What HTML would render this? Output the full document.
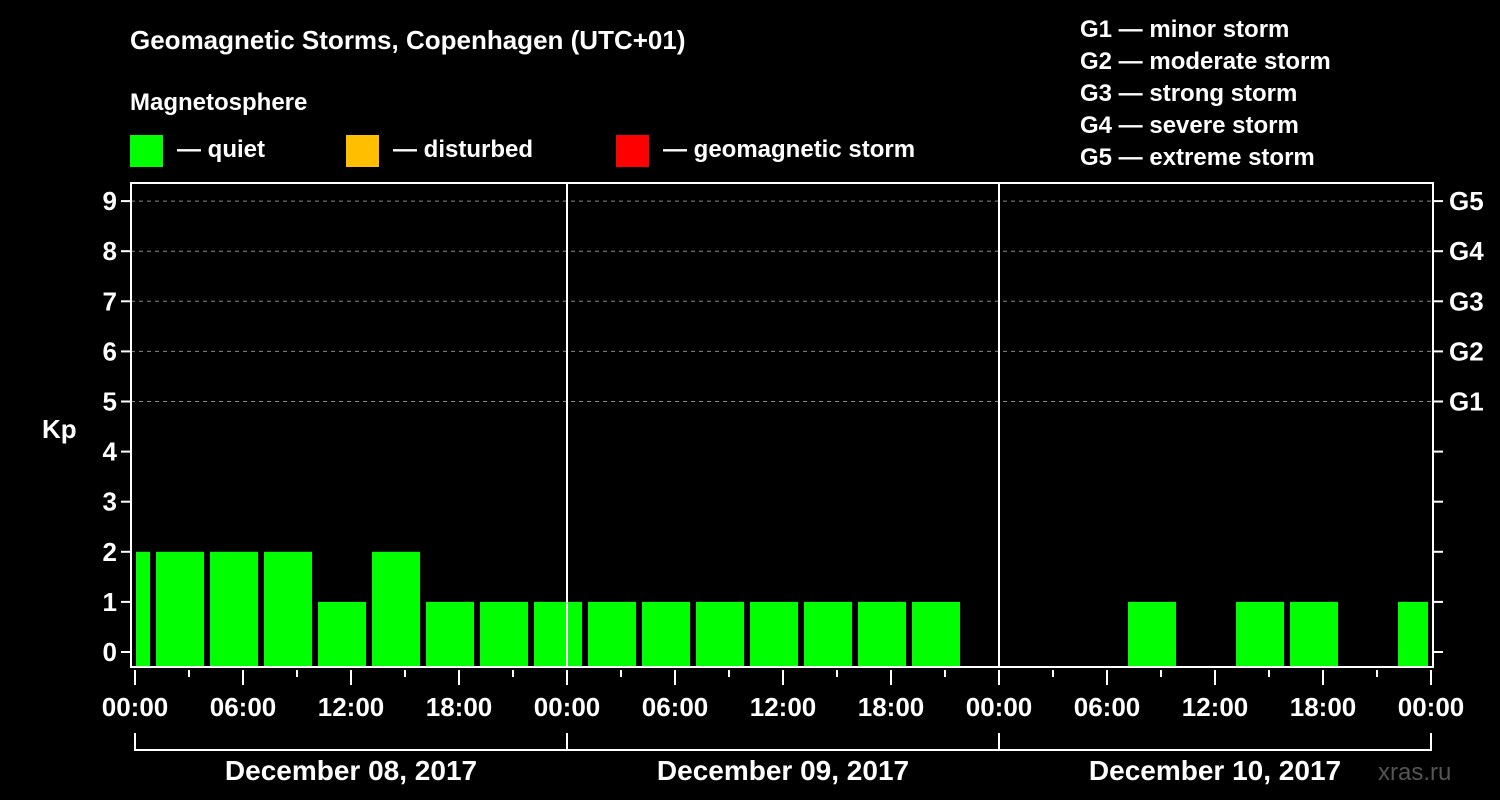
<!DOCTYPE html>
<html><head><meta charset="utf-8"><style>
body{margin:0;background:#000;width:1500px;height:800px;overflow:hidden}
svg{display:block;font-family:"Liberation Sans",Arial,sans-serif;font-weight:bold}
</style></head><body>
<svg id="c" width="1500" height="800">
<rect width="1500" height="800" fill="#000"/>
<text x="130" y="49" fill="#fff" font-size="26">Geomagnetic Storms, Copenhagen (UTC+01)</text>
<text x="130" y="110" fill="#fff" font-size="24">Magnetosphere</text>
<g><rect x="130" y="135" width="33" height="32" fill="#00ff00"/><text x="177" y="157" fill="#fff" font-size="24">— quiet</text></g>
<g><rect x="346" y="135" width="33" height="32" fill="#ffbf00"/><text x="393" y="157" fill="#fff" font-size="24">— disturbed</text></g>
<g><rect x="616" y="135" width="33" height="32" fill="#ff0000"/><text x="663" y="157" fill="#fff" font-size="24">— geomagnetic storm</text></g>
<g fill="#fff" font-size="24">
<text x="1080" y="37">G1 — minor storm</text>
<text x="1080" y="69">G2 — moderate storm</text>
<text x="1080" y="101">G3 — strong storm</text>
<text x="1080" y="133">G4 — severe storm</text>
<text x="1080" y="165">G5 — extreme storm</text>
</g>
<text x="42" y="438" fill="#fff" font-size="26">Kp</text>
<text x="1378" y="780" fill="#555" font-size="24" font-weight="normal">xras.ru</text>
<g id="plot"></g>
</svg>
<script>
const kpValues=[2,2,2,2,1,2,1,1,1,1,1,1,1,1,1,1,null,null,null,1,null,1,1,null,1];
const kpHoursStart=[-2,1,4,7,10,13,16,19,22,25,28,31,34,37,40,43,46,49,52,55,58,61,64,67,70];
const yTicks=[0,1,2,3,4,5,6,7,8,9];
const gLabels=["G1","G2","G3","G4","G5"];
const gLevels=[5,6,7,8,9];
const xTickLabels=["00:00","06:00","12:00","18:00","00:00","06:00","12:00","18:00","00:00","06:00","12:00","18:00","00:00"];
const dayLabels=["December 08, 2017","December 09, 2017","December 10, 2017"];

const NS="http://www.w3.org/2000/svg";
const L=131,R=1433,T=183,B=667,X0=135,PX=18;
const x=h=>X0+h*PX;
const y=v=>652-v*50.1;
const g=document.getElementById('plot');
function mk(t,a){const e=document.createElementNS(NS,t);for(const k in a)e.setAttribute(k,a[k]);g.appendChild(e);return e;}

yTicks.forEach(v=>{
 if(v>=5){const l=mk('line',{x1:L,x2:R,y1:y(v),y2:y(v),stroke:'#888','stroke-dasharray':'4,4','stroke-width':1});
 
 }
 const t1=mk('line',{x1:L-10,x2:L,y1:y(v),y2:y(v),stroke:'#fff','stroke-width':2});
 
 
 const t2=mk('line',{x1:R,x2:R+10,y1:y(v),y2:y(v),stroke:'#fff','stroke-width':2});
 
 
 const tx=mk('text',{x:L-14,y:y(v)+9,fill:'#fff','font-size':26,'text-anchor':'end'});
 tx.textContent=v;
 
 
});
gLabels.forEach((s,i)=>{
 const tx=mk('text',{x:R+16,y:y(gLevels[i])+9,fill:'#fff','font-size':26});
 tx.textContent=s;
 
 
});
kpValues.forEach((v,i)=>{
 if(v===null)return;
 let a=Math.max(x(kpHoursStart[i])+3,L+5),b=Math.min(x(kpHoursStart[i])+51,R-5);
 if(kpHoursStart[i]<0)b=x(kpHoursStart[i]+3)-3;
 const r=mk('rect',{x:a,y:y(v),width:b-a,height:B-y(v),fill:'#00ff00'});
 
 
});
[24,48].forEach(h=>{const l=mk('line',{x1:x(h),x2:x(h),y1:T,y2:B,stroke:'#fff','stroke-width':2});
 
 });
const fr=mk('rect',{x:L,y:T,width:R-L,height:B-T,fill:'none',stroke:'#fff','stroke-width':2});


for(let h=0;h<=72;h+=3){
 const l=mk('line',{x1:x(h),x2:x(h),y1:B+3,y2:h%6===0?B+18:B+10,stroke:'#fff','stroke-width':2});
 
 
}
xTickLabels.forEach((s,i)=>{
 const tx=mk('text',{x:x(i*6),y:716,fill:'#fff','font-size':26,'text-anchor':'middle'});
 tx.textContent=s;
 
 
});
const br=mk('path',{d:`M${x(0)},733V750H${x(72)}V733M${x(24)},733V750M${x(48)},733V750`,fill:'none',stroke:'#fff','stroke-width':2});


dayLabels.forEach((s,i)=>{
 const tx=mk('text',{x:x(i*24+12),y:780,fill:'#fff','font-size':28,'text-anchor':'middle'});
 tx.textContent=s;
 
 
});
</script>
</body></html>
